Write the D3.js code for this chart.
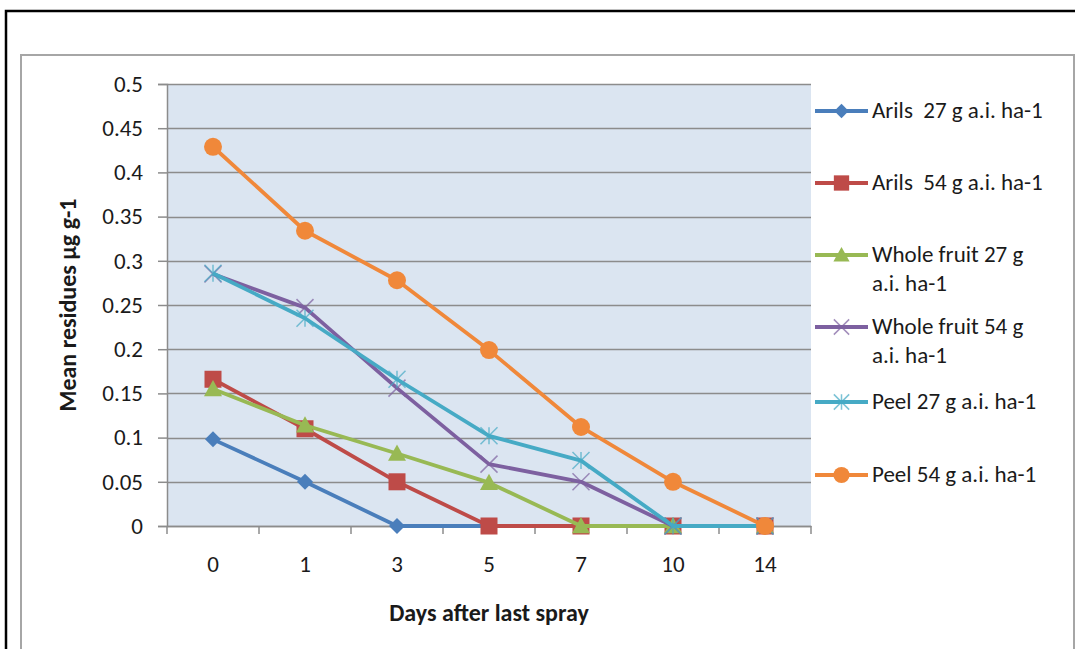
<!DOCTYPE html>
<html>
<head>
<meta charset="utf-8">
<script src="https://cdn.jsdelivr.net/npm/d3@7"></script>
<style>
html,body{margin:0;padding:0;background:#fff;}
svg{display:block;}
text{font-family:Carlito, Lato, "Open Sans", sans-serif;fill:#1a1a1a;white-space:pre;}
</style>
</head>
<body>
<svg id="chart" width="1075" height="649"></svg>
<script>
const days = ["0","1","3","5","7","10","14"];
const seriesNames = [
  "Arils  27 g a.i. ha-1",
  "Arils  54 g a.i. ha-1",
  "Whole fruit 27 g a.i. ha-1",
  "Whole fruit 54 g a.i. ha-1",
  "Peel 27 g a.i. ha-1",
  "Peel 54 g a.i. ha-1"
];
const legendLines = [
  ["Arils  27 g a.i. ha-1"],
  ["Arils  54 g a.i. ha-1"],
  ["Whole fruit 27 g", "a.i. ha-1"],
  ["Whole fruit 54 g", "a.i. ha-1"],
  ["Peel 27 g a.i. ha-1"],
  ["Peel 54 g a.i. ha-1"]
];
const arils27 = [0.098, 0.05, 0, 0, 0, 0, 0];
const arils54 = [0.166, 0.11, 0.05, 0, 0, 0, 0];
const whole27 = [0.155, 0.114, 0.082, 0.049, 0, 0, 0];
const whole54 = [0.285, 0.247, 0.156, 0.07, 0.05, 0, 0];
const peel27 = [0.286, 0.235, 0.166, 0.102, 0.074, 0, 0];
const peel54 = [0.429, 0.334, 0.278, 0.199, 0.112, 0.05, 0];
const yTicks = [0, 0.05, 0.1, 0.15, 0.2, 0.25, 0.3, 0.35, 0.4, 0.45, 0.5];
const colors = ["#4A7EBB", "#BE4B48", "#98B954", "#7D60A0", "#46AAC5", "#F0883A"];
const markers = ["diamond", "square", "triangle", "x", "star", "circle"];
const allValues = [arils27, arils54, whole27, whole54, peel27, peel54];

const svg = d3.select("#chart");
const FONT = "Carlito, Lato, sans-serif";

// Outer frames
svg.append("path").attr("d", "M6,649 V11 H1075")
  .attr("fill", "none").attr("stroke", "#000").attr("stroke-width", 2.5);
svg.append("path").attr("d", "M21,649 V55 H1074 V649")
  .attr("fill", "none").attr("stroke", "#a6a6a6").attr("stroke-width", 2);

const plot = {left: 167, right: 811, top: 84, bottom: 526};

const x = d3.scaleBand().domain(days).range([plot.left, plot.right]).padding(0);
const y = d3.scaleLinear().domain([0, 0.5]).range([plot.bottom, plot.top]);

// Plot background
svg.append("rect")
  .attr("x", plot.left).attr("y", plot.top)
  .attr("width", plot.right - plot.left).attr("height", plot.bottom - plot.top)
  .attr("fill", "#DBE5F1");

// Gridlines
svg.append("g").selectAll("line").data(yTicks).join("line")
  .attr("x1", plot.left).attr("x2", plot.right)
  .attr("y1", d => Math.round(y(d)) + 0.5).attr("y2", d => Math.round(y(d)) + 0.5)
  .attr("stroke", "#8c8c8c").attr("stroke-width", 1.5);

// Y axis
const yAxis = d3.axisLeft(y).tickValues(yTicks).tickSize(9).tickPadding(15)
  .tickFormat(d => d3.format("")(+d.toFixed(2)));
const gy = svg.append("g").attr("transform", `translate(${plot.left},0)`).call(yAxis);
gy.select(".domain").attr("stroke", "#8c8c8c").attr("stroke-width", 1.5);
gy.selectAll(".tick line").attr("stroke", "#8c8c8c").attr("stroke-width", 1.5);
gy.selectAll(".tick text").attr("font-size", 23).attr("fill", "#1a1a1a")
  .style("font-family", FONT);

// X axis
const xAxis = d3.axisBottom(x).tickSize(0).tickPadding(30);
const gx = svg.append("g").attr("transform", `translate(0,${plot.bottom})`).call(xAxis);
gx.select(".domain").attr("stroke", "#8c8c8c").attr("stroke-width", 1.5);
gx.selectAll(".tick text").attr("font-size", 23).attr("fill", "#1a1a1a")
  .style("font-family", FONT);
// band boundary tick marks
const boundaries = days.map(d => x(d)).concat([x(days[days.length - 1]) + x.bandwidth()]);
gx.append("g").selectAll("line").data(boundaries).join("line")
  .attr("x1", d => d).attr("x2", d => d).attr("y1", 0).attr("y2", 8)
  .attr("stroke", "#8c8c8c").attr("stroke-width", 1.5);

// Axis titles
svg.append("text")
  .attr("transform", `translate(76,${(plot.top + plot.bottom) / 2}) rotate(-90)`)
  .attr("text-anchor", "middle").attr("font-size", 24).attr("font-weight", "bold")
  .text("Mean residues µg g-1");
svg.append("text")
  .attr("x", (plot.left + plot.right) / 2).attr("y", 621)
  .attr("text-anchor", "middle").attr("font-size", 24).attr("font-weight", "bold")
  .text("Days after last spray");

// Marker drawing
function drawMarker(g, type, cx, cy, color, scale) {
  const s = scale || 1;
  if (type === "diamond") {
    const r = 8 * s;
    g.append("path").attr("d", `M${cx},${cy - r}L${cx + r},${cy}L${cx},${cy + r}L${cx - r},${cy}Z`).attr("fill", color);
  } else if (type === "square") {
    const r = 8.5 * s;
    g.append("rect").attr("x", cx - r).attr("y", cy - r).attr("width", 2 * r).attr("height", 2 * r).attr("fill", color);
  } else if (type === "triangle") {
    const r = 9 * s;
    g.append("path").attr("d", `M${cx},${cy - r}L${cx + r},${cy + r * 0.8}L${cx - r},${cy + r * 0.8}Z`).attr("fill", color);
  } else if (type === "x") {
    const r = 8.5 * s;
    g.append("path").attr("d", `M${cx - r},${cy - r}L${cx + r},${cy + r}M${cx - r},${cy + r}L${cx + r},${cy - r}`)
      .attr("stroke", color).attr("stroke-width", 1.5).attr("opacity", 0.7);
  } else if (type === "star") {
    const r = 8.5 * s;
    g.append("path").attr("d", `M${cx - r},${cy - r}L${cx + r},${cy + r}M${cx - r},${cy + r}L${cx + r},${cy - r}M${cx},${cy - r}L${cx},${cy + r}`)
      .attr("stroke", color).attr("stroke-width", 1.5).attr("opacity", 0.7);
  } else if (type === "circle") {
    g.append("circle").attr("cx", cx).attr("cy", cy).attr("r", 9 * s).attr("fill", color);
  }
}

const line = d3.line().x((d, i) => x(days[i]) + x.bandwidth() / 2).y(d => y(d));

const seriesG = svg.append("g");
allValues.forEach((vals, si) => {
  const g = seriesG.append("g");
  g.append("path").datum(vals).attr("d", line)
    .attr("fill", "none").attr("stroke", colors[si]).attr("stroke-width", 3.8)
    .attr("stroke-linejoin", "round");
  vals.forEach((v, i) => {
    drawMarker(g, markers[si], x(days[i]) + x.bandwidth() / 2, y(v), colors[si]);
  });
});

// Legend
const legendY = [111, 183, 255, 327, 402, 475];
const leg = svg.append("g");
legendLines.forEach((lines, i) => {
  const cy = legendY[i];
  leg.append("line").attr("x1", 815).attr("x2", 868).attr("y1", cy).attr("y2", cy)
    .attr("stroke", colors[i]).attr("stroke-width", 3.8);
  drawMarker(leg, markers[i], 841.5, cy, colors[i], 0.9);
  const t = leg.append("text").attr("x", 872).attr("y", cy + 7).attr("font-size", 23);
  lines.forEach((ln, k) => {
    t.append("tspan").attr("x", 872).attr("dy", k === 0 ? 0 : 29).text(ln);
  });
});
</script>
</body>
</html>
